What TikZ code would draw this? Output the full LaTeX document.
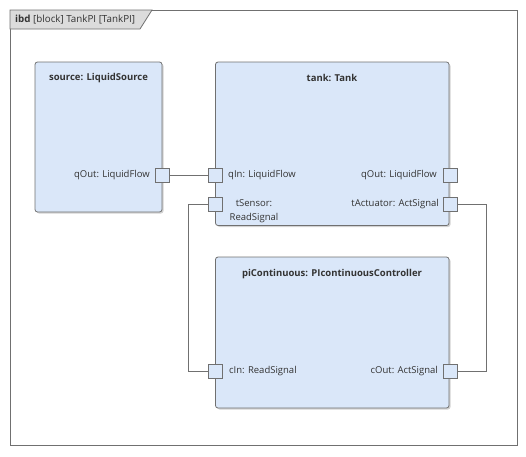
\documentclass[tikz,border=0pt]{standalone}
\usepackage{fontspec}
\setmainfont{Open Sans}
\usetikzlibrary{shadows}
\definecolor{blk}{HTML}{DAE7F9}
\definecolor{edge}{HTML}{707070}
\definecolor{tab}{HTML}{DCDCDC}
\begin{document}
\begin{tikzpicture}[x=1pt,y=-1pt,
  blockbox/.style={draw=edge,fill=blk,rounded corners=2.5pt,line width=0.8pt,
     drop shadow={shadow xshift=1.5pt,shadow yshift=-1.5pt,opacity=0.35}},
  portbox/.style={draw=edge,fill=blk,line width=0.8pt,minimum size=14pt,inner sep=0pt},
  lbl/.style={font=\fontsize{9.5}{14}\selectfont,text=black!80,inner sep=0pt},
  ttl/.style={font=\bfseries\fontsize{9.5}{12}\selectfont,text=black!80,inner sep=0pt},
  wire/.style={draw=edge,line width=0.8pt}]
\useasboundingbox (0,0) rectangle (526,456);
% frame
\draw[edge,line width=0.8pt] (10,10) rectangle (517,445);
\draw[edge,line width=0.8pt,fill=tab] (10,10) -- (152,10) -- (140,29) -- (10,29) -- cycle;
\node[lbl,anchor=west,font=\fontsize{9.8}{12}\selectfont] (title) at (15,19.5) {\textbf{ibd} [block] TankPI [TankPI]};
% blocks
\path[blockbox] (35,62) rectangle (162,212);
\node[ttl] (srcT) at (98.5,78) {source: LiquidSource};
\path[blockbox] (215.5,62) rectangle (449,225.5);
\node[ttl] (tankT) at (332,78) {tank: Tank};
\path[blockbox] (215.5,257) rectangle (449,408);
\node[ttl] (ctrlT) at (332,274) {piContinuous: PIcontinuousController};
% ports
\node[portbox] (srcOut) at (162,175.5) {};
\node[portbox] (qIn) at (215.5,175.5) {};
\node[portbox] (tSensor) at (215.5,204.5) {};
\node[portbox] (tqOut) at (450.5,175.5) {};
\node[portbox] (tAct) at (450.5,204.5) {};
\node[portbox] (cIn) at (215.5,371) {};
\node[portbox] (cOut) at (450.5,371) {};
% labels
\node[lbl,anchor=east] (l1) at (150,175.5) {qOut: LiquidFlow};
\node[lbl,anchor=west] (l2) at (228,175.5) {qIn: LiquidFlow};
\node[lbl,align=center] (l3) at (254,211.5) {tSensor:\\ReadSignal};
\node[lbl,anchor=east] (l4) at (437,175.5) {qOut: LiquidFlow};
\node[lbl,anchor=east] (l5) at (439,204.5) {tActuator: ActSignal};
\node[lbl,anchor=west] (l6) at (229,371.5) {cIn: ReadSignal};
\node[lbl,anchor=east] (l7) at (438,371.5) {cOut: ActSignal};
% connectors
\coordinate (lx) at (188.5,0);
\coordinate (rx) at (486.5,0);
\draw[wire] (srcOut.east) -- (qIn.west);
\draw[wire] (tSensor.west) -- (tSensor.west -| lx) -- (cIn.west -| lx) -- (cIn.west);
\draw[wire] (tAct.east) -- (tAct.east -| rx) -- (cOut.east -| rx) -- (cOut.east);
\end{tikzpicture}
\end{document}
